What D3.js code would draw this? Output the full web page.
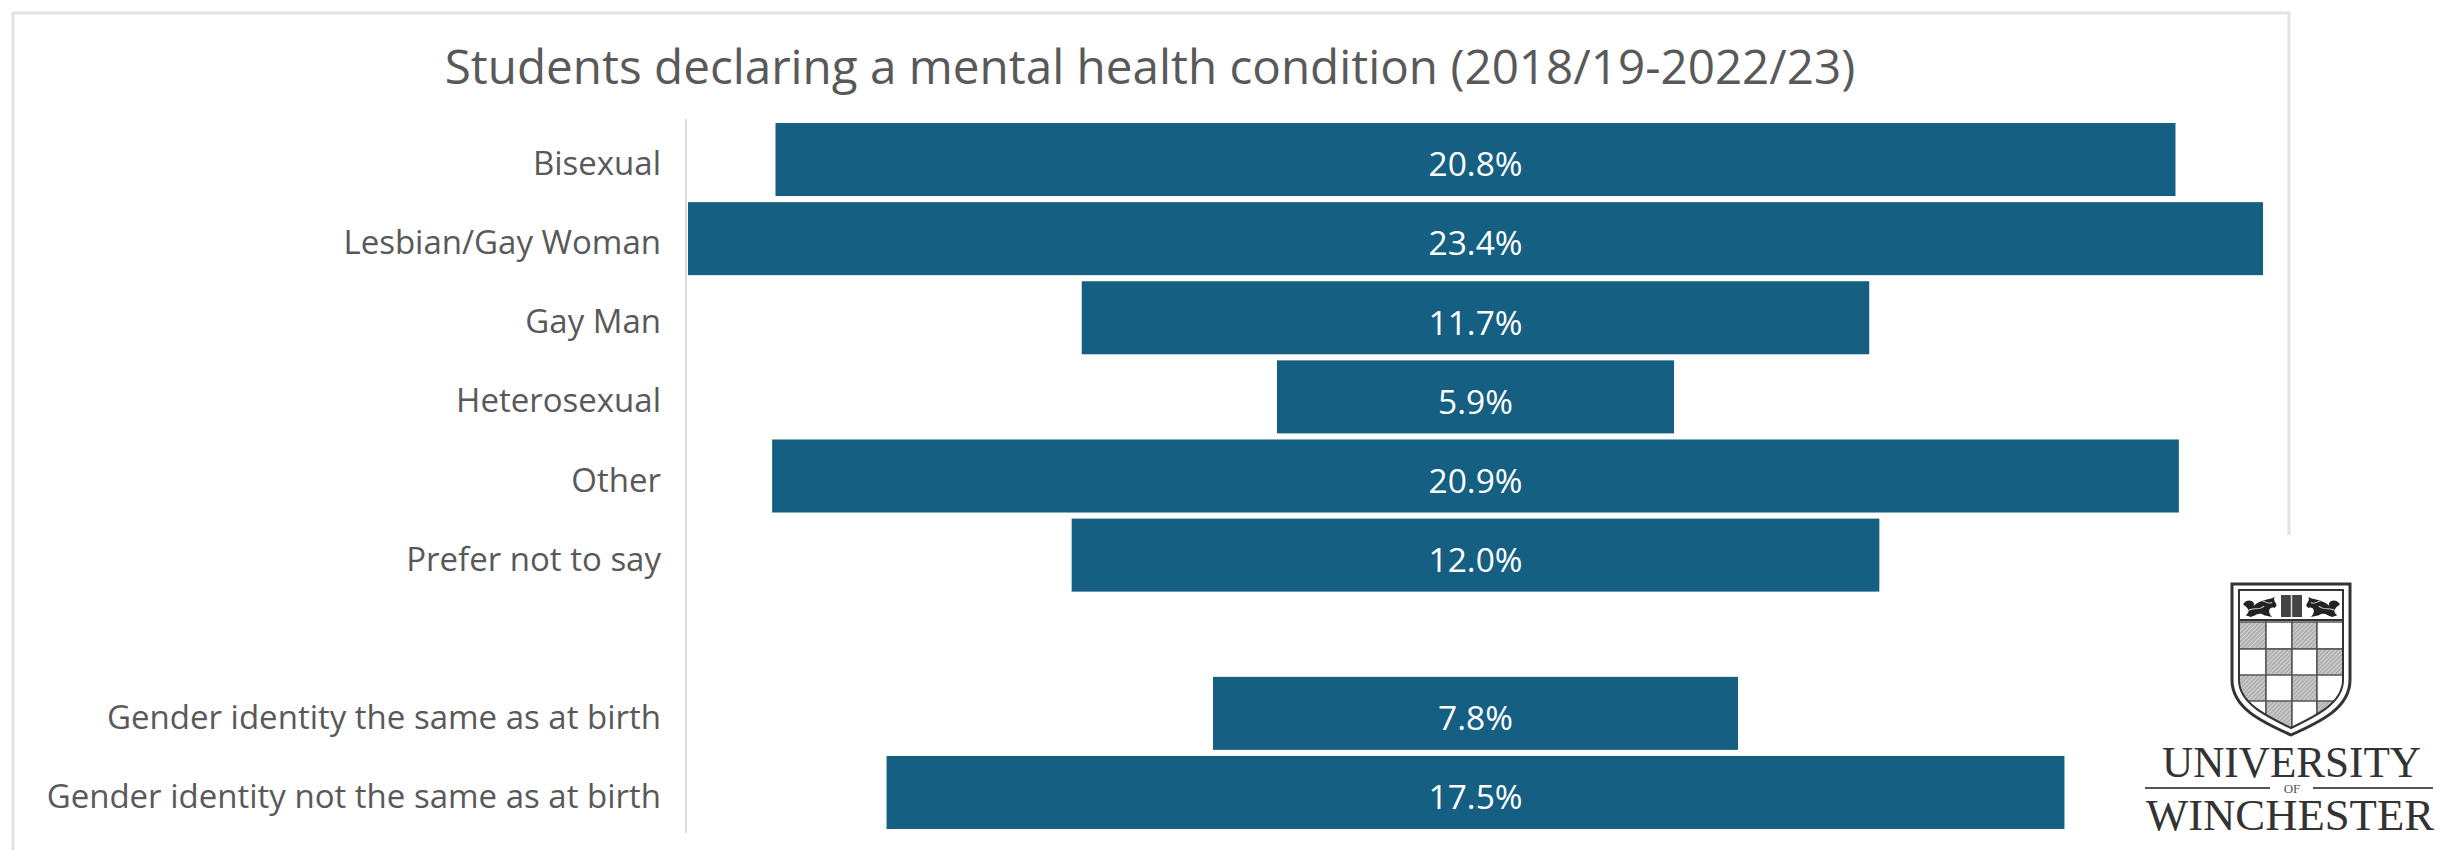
<!DOCTYPE html>
<html>
<head>
<meta charset="utf-8">
<script src="https://cdn.jsdelivr.net/npm/d3@7"></script>
<style>
  body { margin: 0; background: #fff; }
  text { font-family: "Open Sans", sans-serif; }
  .axis path, .axis line { display: none; }
  .axis text { fill: #595959; font-size: 33px; }
</style>
</head>
<body>
<div id="chart"></div>
<script>
var chartTitle = 'Students declaring a mental health condition (2018/19-2022/23)';
var categories = ['Bisexual', 'Lesbian/Gay Woman', 'Gay Man', 'Heterosexual', 'Other', 'Prefer not to say', ' ',
    'Gender identity the same as at birth', 'Gender identity not the same as at birth'];
var values = [20.8, 23.4, 11.7, 5.9, 20.9, 12.0, null, 7.8, 17.5];

var width = 2449, height = 850;

var svg = d3.select('#chart').append('svg')
    .attr('width', width)
    .attr('height', height)
    .style('display', 'block');

// panel border, runs off the bottom of the crop
svg.append('path')
    .attr('d', `M13,${height} V13 H2289 V${height}`)
    .attr('fill', 'none')
    .attr('stroke', '#e2e2e2')
    .attr('stroke-width', 3);

svg.append('text')
    .attr('x', 1150)
    .attr('y', 84)
    .attr('text-anchor', 'middle')
    .attr('font-size', 47.6)
    .attr('fill', '#595959')
    .text(chartTitle);

var x = d3.scaleLinear().domain([-11.7, 11.7]).range([688, 2263]);
var y = d3.scaleBand().domain(categories).range([120, 832]).paddingInner(0.077).paddingOuter(0.038);

svg.append('line')
    .attr('x1', 686).attr('x2', 686)
    .attr('y1', 119).attr('y2', 833)
    .attr('stroke', '#d9d9d9')
    .attr('stroke-width', 2);

svg.append('g')
    .attr('class', 'axis')
    .attr('transform', 'translate(686,0)')
    .call(d3.axisLeft(y).tickSize(0).tickPadding(25))
    .selectAll('text')
    .attr('dy', '0.47em');

var rows = categories.map((c, i) => ({ cat: c, val: values[i] })).filter(d => d.val !== null);

svg.selectAll('.bar').data(rows).enter().append('rect')
    .attr('class', 'bar')
    .attr('x', d => x(-d.val / 2))
    .attr('y', d => y(d.cat))
    .attr('width', d => x(d.val / 2) - x(-d.val / 2))
    .attr('height', y.bandwidth())
    .attr('fill', '#156082');

svg.selectAll('.val').data(rows).enter().append('text')
    .attr('class', 'val')
    .attr('x', x(0))
    .attr('y', d => y(d.cat) + y.bandwidth() / 2)
    .attr('dy', '0.5em')
    .attr('text-anchor', 'middle')
    .attr('font-size', 33.5)
    .attr('fill', '#fff')
    .text(d => d.val.toFixed(1) + '%');

// logo sits on a white patch that covers the panel corner
var logo = svg.append('g');
logo.append('rect').attr('x', 2095).attr('y', 535).attr('width', 354).attr('height', 315).attr('fill', '#fff');

var defs = svg.append('defs');
var hatch = defs.append('pattern')
    .attr('id', 'hatch')
    .attr('width', 3).attr('height', 3)
    .attr('patternUnits', 'userSpaceOnUse')
    .attr('patternTransform', 'rotate(-45)');
hatch.append('rect').attr('width', 3).attr('height', 3).attr('fill', '#d4d4d4');
hatch.append('line').attr('x1', 0).attr('x2', 3).attr('y1', 1).attr('y2', 1).attr('stroke', '#8c8c8c').attr('stroke-width', 1);

var shieldPath = 'M2232,584 H2350 V680 C2350,708 2320,722 2291,735 C2262,722 2232,708 2232,680 Z';
var innerPath = 'M2239,590 H2343 V680 C2343,703 2316,716 2291,728 C2266,716 2239,703 2239,680 Z';
defs.append('clipPath').attr('id', 'shield-clip').append('path').attr('d', innerPath);

logo.append('path').attr('d', shieldPath).attr('fill', '#fff').attr('stroke', '#333').attr('stroke-width', 3);

var cols = [2239, 2266, 2292, 2317];
var colW = [27, 26, 25, 26];
var rowsY = [622, 649, 675, 701];
var checks = logo.append('g').attr('clip-path', 'url(#shield-clip)');
rowsY.forEach((ry, r) => {
    cols.forEach((cx, c) => {
        checks.append('rect')
            .attr('x', cx).attr('y', ry)
            .attr('width', colW[c]).attr('height', 27)
            .attr('fill', (r + c) % 2 === 0 ? 'url(#hatch)' : '#fff')
            .attr('stroke', '#555')
            .attr('stroke-width', 1.5);
    });
});
logo.append('path').attr('d', innerPath).attr('fill', 'none').attr('stroke', '#333').attr('stroke-width', 2);
logo.append('line').attr('x1', 2239).attr('x2', 2343).attr('y1', 620).attr('y2', 620).attr('stroke', '#333').attr('stroke-width', 2);

// lions and book in the chief, only roughly
var lion = 'M0,10 C4,2 10,8 8,12 C14,4 20,6 24,2 C22,8 28,10 24,14 C20,12 18,18 22,24 L16,22 C12,18 10,22 6,24 L2,22 C6,18 4,14 0,10 Z';
var curl = 'M3,18 C7,12 12,18 16,12 M14,6 C18,8 20,10 22,8';
[['translate(2243,595) scale(1.32,0.92)'], ['translate(2340,595) scale(-1.32,0.92)']].forEach(t => {
    logo.append('path').attr('d', lion).attr('transform', t[0]).attr('fill', '#222');
    logo.append('path').attr('d', curl).attr('transform', t[0]).attr('fill', 'none').attr('stroke', '#ccc').attr('stroke-width', 1);
});
logo.append('rect').attr('x', 2281).attr('y', 595).attr('width', 21).attr('height', 22).attr('fill', '#444');
logo.append('line').attr('x1', 2291.5).attr('x2', 2291.5).attr('y1', 595).attr('y2', 617).attr('stroke', '#ddd').attr('stroke-width', 1.5);

function logoText(str, xs, base, size, len) {
    logo.append('text')
        .attr('x', xs).attr('y', base)
        .attr('font-size', size)
        .attr('textLength', len)
        .attr('lengthAdjust', 'spacingAndGlyphs')
        .style('font-family', '"Liberation Serif", serif')
        .attr('fill', '#333')
        .text(str);
}
logoText('UNIVERSITY', 2162, 777, 45, 259);
logoText('WINCHESTER', 2146, 830, 45, 288);
logo.append('text')
    .attr('x', 2292).attr('y', 793)
    .attr('text-anchor', 'middle')
    .attr('font-size', 13)
    .style('font-family', '"Liberation Serif", serif')
    .attr('fill', '#555')
    .text('OF');
logo.append('line').attr('x1', 2145).attr('x2', 2270).attr('y1', 788).attr('y2', 788).attr('stroke', '#555').attr('stroke-width', 2);
logo.append('line').attr('x1', 2313).attr('x2', 2433).attr('y1', 788).attr('y2', 788).attr('stroke', '#555').attr('stroke-width', 2);
</script>
</body>
</html>
